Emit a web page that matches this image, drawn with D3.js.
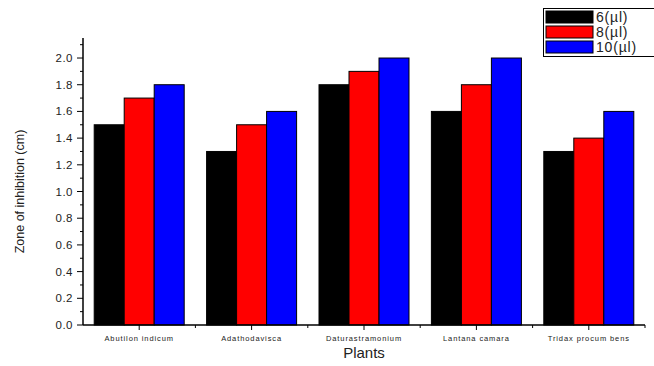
<!DOCTYPE html>
<html>
<head>
<meta charset="utf-8">
<script src="https://cdn.jsdelivr.net/npm/d3@7"></script>
<style>
  body { margin: 0; background: #fff; }
  text { font-family: "Liberation Sans", Arial, sans-serif; }
</style>
</head>
<body>
<svg id="chart" width="654" height="366"></svg>
<script>
// data
var plants = ['Abutilon  indicum', 'Adathodavisca', 'Daturastramonium', 'Lantana   camara', 'Tridax procum bens'];
var series = ['6(\u00b5l)', '8(\u00b5l)', '10(\u00b5l)'];
var colors = ['#000000', '#ff0000', '#0000ff'];
var vol6 = [1.5, 1.3, 1.8, 1.6, 1.3];
var vol8 = [1.7, 1.5, 1.9, 1.8, 1.4];
var vol10 = [1.8, 1.6, 2.0, 2.0, 1.6];
var yTicks = [0, 0.2, 0.4, 0.6, 0.8, 1.0, 1.2, 1.4, 1.6, 1.8, 2.0];

var values = [vol6, vol8, vol10];

var svg = d3.select('#chart'),
    plotL = 83, plotR = 645, plotT = 38, plotB = 325;

var x = d3.scaleBand().domain(plants).range([plotL, plotR]).padding(0);
var x1 = d3.scaleBand().domain(series).range([0, 90]);
var y = d3.scaleLinear().domain([0, 2.15]).range([plotB, plotT]);

// bars
series.forEach(function (s, si) {
    svg.append('g').selectAll('rect')
        .data(values[si])
        .enter().append('rect')
        .attr('x', function (d, i) { return x(plants[i]) + x.bandwidth() / 2 - 45 + x1(s); })
        .attr('y', function (d) { return y(d); })
        .attr('width', x1.bandwidth())
        .attr('height', function (d) { return plotB - y(d); })
        .attr('fill', colors[si])
        .attr('stroke', '#000')
        .attr('stroke-width', 1);
});

// y axis
var yAxis = svg.append('g').attr('transform', 'translate(' + plotL + ',0)');
yAxis.append('line').attr('x1', 0).attr('x2', 0).attr('y1', plotT).attr('y2', plotB)
    .attr('stroke', '#000').attr('stroke-width', 1.5);
d3.range(0, 22).forEach(function (i) {
    var v = i / 10, major = i % 2 === 0;
    yAxis.append('line').attr('x1', major ? -6 : -3).attr('x2', 0)
        .attr('y1', y(v)).attr('y2', y(v)).attr('stroke', '#000');
});
yAxis.selectAll('text.tick').data(yTicks).enter().append('text')
    .attr('x', -10).attr('y', function (d) { return y(d); })
    .attr('dy', '0.35em').attr('text-anchor', 'end')
    .attr('font-size', 11.5).attr('fill', '#222').attr('letter-spacing', 0.5)
    .text(function (d) { return d3.format('.1f')(d); });

// x axis
var xAxis = svg.append('g');
xAxis.append('line').attr('x1', plotL).attr('x2', plotR).attr('y1', plotB).attr('y2', plotB)
    .attr('stroke', '#000').attr('stroke-width', 1.5);
plants.forEach(function (p, i) {
    var c = x(p) + x.bandwidth() / 2;
    xAxis.append('line').attr('x1', c).attr('x2', c).attr('y1', plotB).attr('y2', plotB + 5).attr('stroke', '#000');
    xAxis.append('line').attr('x1', x(p) + x.bandwidth()).attr('x2', x(p) + x.bandwidth())
        .attr('y1', plotB).attr('y2', plotB + 3).attr('stroke', '#000');
    xAxis.append('text').attr('x', c).attr('y', plotB + 16).attr('text-anchor', 'middle')
        .attr('font-size', 7.5).attr('letter-spacing', 0.9).attr('fill', '#222').text(p);
});

// axis titles
svg.append('text').attr('x', 364).attr('y', 358).attr('text-anchor', 'middle')
    .attr('font-size', 15).attr('fill', '#222').text('Plants');
svg.append('text').attr('transform', 'translate(24,' + ((plotT + plotB) / 2 + 10) + ') rotate(-90)')
    .attr('text-anchor', 'middle').attr('font-size', 12.5).attr('fill', '#222')
    .text('Zone of inhibition (cm)');

// legend
var lg = svg.append('g');
lg.append('rect').attr('x', 543.5).attr('y', 8.5).attr('width', 112).attr('height', 48)
    .attr('fill', '#fff').attr('stroke', '#000');
series.forEach(function (s, i) {
    var yy = 11 + i * 15;
    lg.append('rect').attr('x', 546).attr('y', yy).attr('width', 47).attr('height', 12)
        .attr('fill', colors[i]).attr('stroke', '#000');
    lg.append('text').attr('x', 596).attr('y', yy + 6).attr('dy', '0.36em')
        .attr('font-size', 14).attr('fill', '#222').attr('letter-spacing', 0.8).text(s);
});
</script>
</body>
</html>
